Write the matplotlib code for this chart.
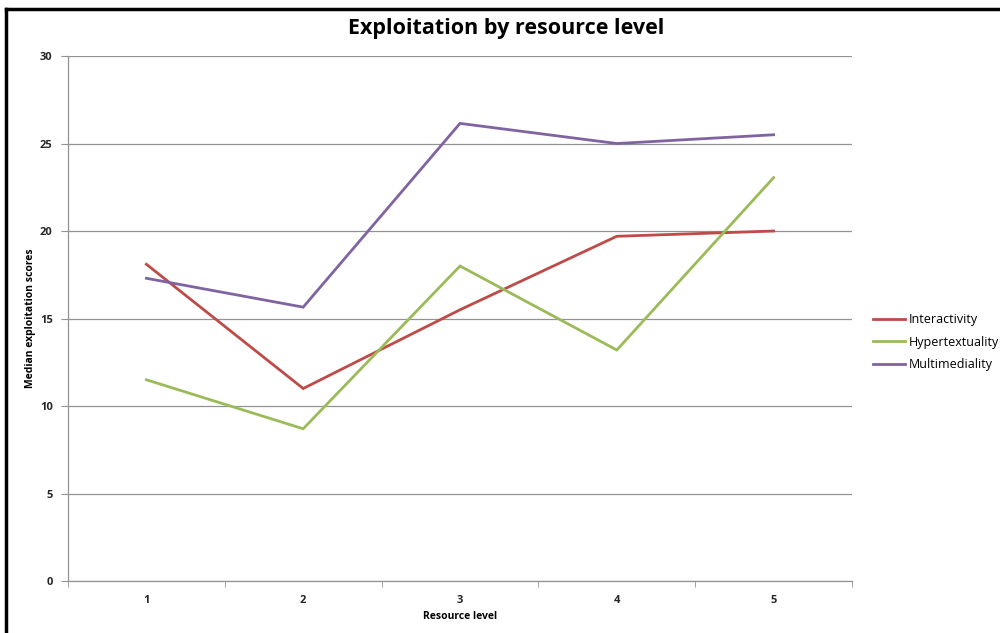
import matplotlib.pyplot as plt
from matplotlib.lines import Line2D
import numpy as np

# resource levels and median exploitation scores
levels = ['1', '2', '3', '4', '5']
interactivity = [18.1, 11.0, 15.5, 19.7, 20.0]
hypertextuality = [11.5, 8.7, 18.0, 13.2, 23.05]
multimediality = [17.3, 15.65, 26.15, 25.0, 25.5]

series_names = ['Interactivity', 'Hypertextuality', 'Multimediality']
series_colors = ['#BE4B48', '#9BBB59', '#8064A2']

plt.rcParams['font.family'] = ['Open Sans', 'DejaVu Sans']

fig = plt.figure(figsize=(10, 6.33), dpi=100)
ax = fig.add_axes([0.068, 0.0821, 0.784, 0.8294])

x = np.arange(len(levels))
for vals, name, col in zip([interactivity, hypertextuality, multimediality],
                           series_names, series_colors):
    ax.plot(x, vals, color=col, lw=2.0, label=name, solid_joinstyle='miter')

ax.set_xlim(-0.5, len(levels) - 0.5)
ax.set_ylim(0, 30)
ax.set_yticks(range(0, 31, 5))
ax.set_xticks(x)
ax.set_xticklabels(levels)
ax.set_xticks(np.arange(-0.5, len(levels), 1.0), minor=True)

ax.grid(axis='y', color='#939393', lw=0.9)
ax.set_axisbelow(True)
for s in ['top', 'right']:
    ax.spines[s].set_visible(False)
for s in ['left', 'bottom']:
    ax.spines[s].set_color('#939393')
    ax.spines[s].set_linewidth(0.9)

ax.tick_params(axis='y', length=5, color='#939393', labelsize=8, pad=6)
ax.tick_params(axis='x', which='major', length=0, labelsize=8, pad=10)
ax.tick_params(axis='x', which='minor', length=4, color='#939393')
for lab in ax.get_xticklabels() + ax.get_yticklabels():
    lab.set_fontweight('bold')
    lab.set_color('#262626')

ax.set_xlabel('Resource level', fontsize=7.5, fontweight='bold', labelpad=4)
ax.set_ylabel('Median exploitation scores', fontsize=7.5, fontweight='bold', labelpad=3)

fig.text(0.506, 0.955, 'Exploitation by resource level', ha='center', va='center',
         fontsize=15.5, fontweight='bold')

ax.legend(loc='center left', bbox_to_anchor=(1.012, 0.455), frameon=False,
          fontsize=9, handlelength=2.6, handletextpad=0.25, labelspacing=0.75)

# outer frame of the chart area
fig.add_artist(Line2D([0.006, 0.006], [0, 0.9858], transform=fig.transFigure,
                      color='black', lw=2.5))
fig.add_artist(Line2D([0.006, 1.0], [0.9858, 0.9858], transform=fig.transFigure,
                      color='black', lw=2.5))

fig.savefig('out.png', dpi=100)
